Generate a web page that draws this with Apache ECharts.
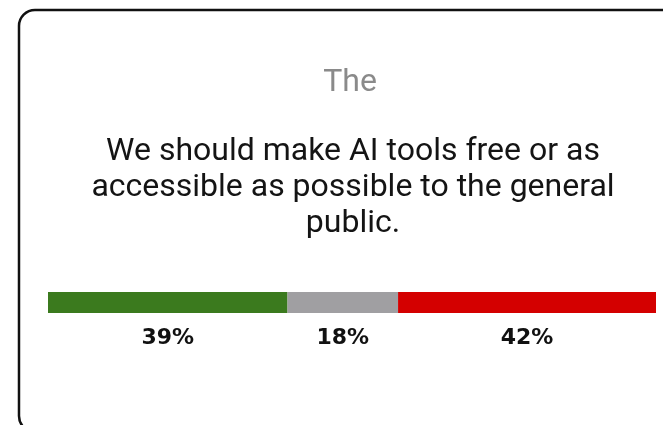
<!DOCTYPE html>
<html>
<head>
<meta charset="utf-8">
<script src="https://cdn.jsdelivr.net/npm/echarts@6/dist/echarts.min.js"></script>
<style>
  html, body { margin: 0; padding: 0; background: #fff; }
  #chart { width: 663px; height: 425px; }
</style>
</head>
<body>
<div id="chart"></div>
<script>
// Survey question and answer shares (percent)
const heading = 'The';
const questionLines = [
  'We should make AI tools free or as',
  'accessible as possible to the general',
  'public.'
];
const answers = ['Agree', 'Neutral', 'Disagree'];
const shares = [39, 18, 42];
const colors = ['#3b7a1e', '#a09fa2', '#d40000'];

const total = shares.reduce((a, b) => a + b, 0);

const chart = echarts.init(document.getElementById('chart'), null, { renderer: 'canvas' });

const series = answers.map((name, i) => ({
  name: name,
  type: 'bar',
  stack: 'all',
  barWidth: 21,
  data: [shares[i]],
  itemStyle: { color: colors[i] },
  label: {
    show: true,
    position: 'bottom',
    distance: 14,
    formatter: '{c}%',
    fontFamily: 'DejaVu Sans',
    fontWeight: 'bold',
    fontSize: 22,
    color: '#111'
  },
  emphasis: { disabled: true },
  silent: true
}));

chart.setOption({
  animation: false,
  backgroundColor: '#fff',
  graphic: [{
    type: 'rect',
    z: -10,
    shape: { x: 19, y: 10, width: 668, height: 422, r: 16 },
    style: { fill: '#fff', stroke: '#111', lineWidth: 2.5 }
  }],
  title: [{
    text: heading,
    left: 345,
    top: 62,
    textAlign: 'center',
    textStyle: { fontFamily: 'Roboto', fontWeight: 'normal', fontSize: 32, color: '#8a8a8a' }
  }, {
    text: questionLines.join('\n'),
    left: 348,
    top: 129,
    textAlign: 'center',
    textStyle: { fontFamily: 'Roboto', fontWeight: 'normal', fontSize: 32, lineHeight: 36, color: '#141414' }
  }],
  grid: { left: 48, right: 7, top: 292, height: 21 },
  xAxis: {
    type: 'value',
    min: 0,
    max: total,
    show: false
  },
  yAxis: {
    type: 'category',
    data: ['share'],
    show: false
  },
  series: series
});
</script>
</body>
</html>
